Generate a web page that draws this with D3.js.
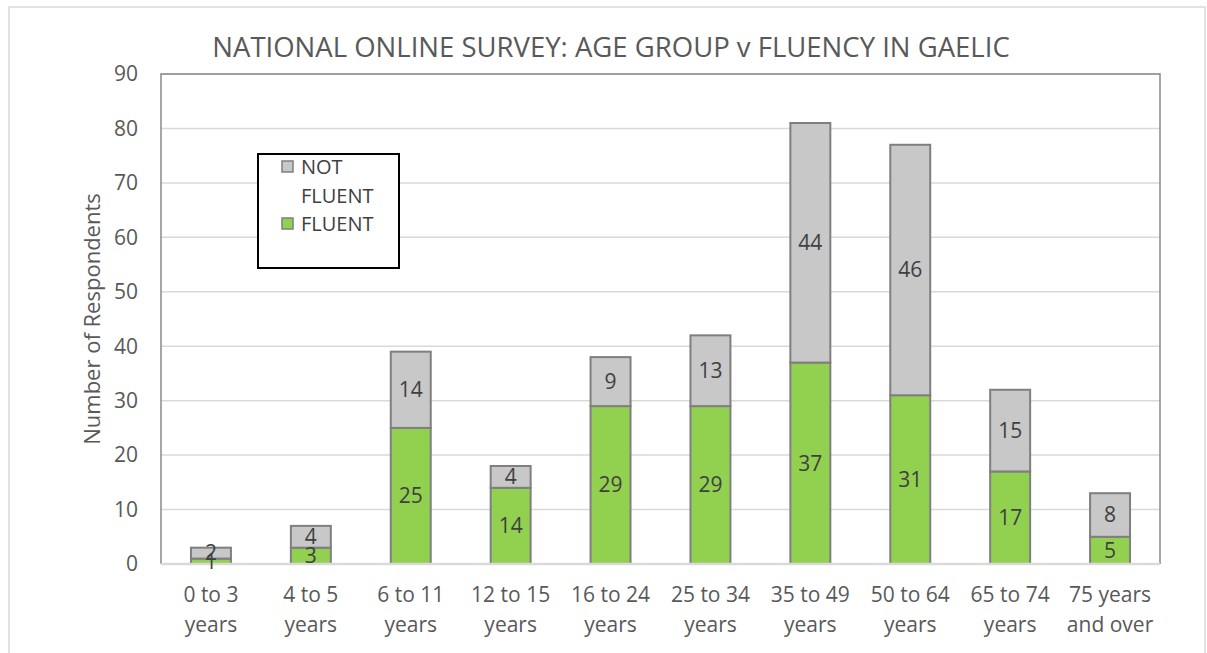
<!DOCTYPE html>
<html>
<head>
<meta charset="utf-8">
<script src="https://cdn.jsdelivr.net/npm/d3@7"></script>
<style>
  body { margin: 0; background: #fff; }
  text { font-family: "Open Sans", sans-serif; fill: #595959; }
</style>
</head>
<body>
<div id="graph1"></div>
<script>
// Chart data
const ageGroups = ["0 to 3|years", "4 to 5|years", "6 to 11|years", "12 to 15|years", "16 to 24|years",
    "25 to 34|years", "35 to 49|years", "50 to 64|years", "65 to 74|years", "75 years|and over"];
const fluent = [1, 3, 25, 14, 29, 29, 37, 31, 17, 5];
const notFluent = [2, 4, 14, 4, 9, 13, 44, 46, 15, 8];
const yTicks = [0, 10, 20, 30, 40, 50, 60, 70, 80, 90];

const width = 1207, height = 653;
const margin = {left: 161, top: 74, right: 47, bottom: 89};

let svg = d3.select("#graph1")
    .append("svg")
    .attr("width", width)
    .attr("height", height);

// outer chart frame
svg.append("rect")
    .attr("x", 9).attr("y", 7)
    .attr("width", 1196).attr("height", 660)
    .attr("fill", "none")
    .attr("stroke", "#d9d9d9")
    .attr("stroke-width", 1.5);

let x = d3.scaleBand()
    .domain(ageGroups)
    .range([margin.left, width - margin.right])
    .paddingInner(0.6)
    .paddingOuter(0.3);

let y = d3.scaleLinear()
    .domain([0, 90])
    .range([height - margin.bottom, margin.top]);

// gridlines
svg.append("g")
    .selectAll("line")
    .data(yTicks.slice(1))
    .join("line")
    .attr("x1", margin.left).attr("x2", width - margin.right)
    .attr("y1", d => y(d)).attr("y2", d => y(d))
    .attr("stroke", "#d9d9d9")
    .attr("stroke-width", 1.5);

// plot border left/top/right
svg.append("path")
    .attr("d", `M${margin.left},${y(0)}V${y(90)}H${width - margin.right}V${y(0)}`)
    .attr("fill", "none")
    .attr("stroke", "#898989")
    .attr("stroke-width", 1.5);

// stacked bars
let stackData = ageGroups.map((g, i) => ({group: g, fluent: fluent[i], notFluent: notFluent[i]}));
let stack = d3.stack().keys(["fluent", "notFluent"])(stackData);
let colors = {fluent: "#92d050", notFluent: "#c8c8c8"};

let layers = svg.append("g")
    .selectAll("g")
    .data(stack)
    .join("g")
    .attr("fill", d => colors[d.key]);

layers.selectAll("rect")
    .data(d => d)
    .join("rect")
    .attr("x", d => x(d.data.group))
    .attr("y", d => y(d[1]))
    .attr("width", x.bandwidth())
    .attr("height", d => y(d[0]) - y(d[1]))
    .attr("stroke", "#7f7f7f")
    .attr("stroke-width", 2);

// x axis line
svg.append("line")
    .attr("x1", margin.left).attr("x2", width - margin.right)
    .attr("y1", y(0)).attr("y2", y(0))
    .attr("stroke", "#d9d9d9")
    .attr("stroke-width", 2.5);

// data labels, drawn on top of all bars
svg.append("g")
    .selectAll("g")
    .data(stack)
    .join("g")
    .selectAll("text")
    .data(d => d)
    .join("text")
    .attr("x", d => x(d.data.group) + x.bandwidth() / 2)
    .attr("y", d => y((d[0] + d[1]) / 2))
    .attr("dy", "0.35em")
    .attr("text-anchor", "middle")
    .style("font-size", "21px")
    .style("fill", "#404040")
    .text(d => d[1] - d[0]);

// y tick labels
svg.append("g")
    .selectAll("text")
    .data(yTicks)
    .join("text")
    .attr("x", 138)
    .attr("y", d => y(d))
    .attr("dy", "0.35em")
    .attr("text-anchor", "end")
    .style("font-size", "21px")
    .text(d => d);

// x tick labels (two lines)
let xl = svg.append("g")
    .selectAll("text")
    .data(ageGroups)
    .join("text")
    .attr("text-anchor", "middle")
    .style("font-size", "21px");
xl.each(function (d) {
    let parts = d.split("|");
    let t = d3.select(this);
    parts.forEach((p, i) => {
        t.append("tspan")
            .attr("x", x(d) + x.bandwidth() / 2)
            .attr("y", 602 + i * 30)
            .text(p);
    });
});

// y axis title
svg.append("text")
    .attr("transform", `translate(100, ${y(45)}) rotate(-90)`)
    .attr("text-anchor", "middle")
    .style("font-size", "22px")
    .text("Number of Respondents");

// chart title
svg.append("text")
    .attr("x", 611)
    .attr("y", 57)
    .attr("text-anchor", "middle")
    .style("font-size", "27.5px")
    .text("NATIONAL ONLINE SURVEY: AGE GROUP v FLUENCY IN GAELIC");

// legend
let legend = svg.append("g");
legend.append("rect")
    .attr("x", 258).attr("y", 154)
    .attr("width", 141).attr("height", 114)
    .attr("fill", "#fff")
    .attr("stroke", "#000")
    .attr("stroke-width", 2);

const legendItems = [
    {key: "notFluent", lines: ["NOT", "FLUENT"], y: 167},
    {key: "fluent", lines: ["FLUENT"], y: 224}
];
legendItems.forEach(item => {
    legend.append("rect")
        .attr("x", 282).attr("y", item.y - 6)
        .attr("width", 11).attr("height", 11)
        .attr("fill", colors[item.key])
        .attr("stroke", "#7f7f7f")
        .attr("stroke-width", 1.5);
    item.lines.forEach((l, i) => {
        legend.append("text")
            .attr("x", 301)
            .attr("y", item.y + i * 29)
            .attr("dy", "0.35em")
            .style("font-size", "20px")
            .style("fill", "#404040")
            .text(l);
    });
});
</script>
</body>
</html>
